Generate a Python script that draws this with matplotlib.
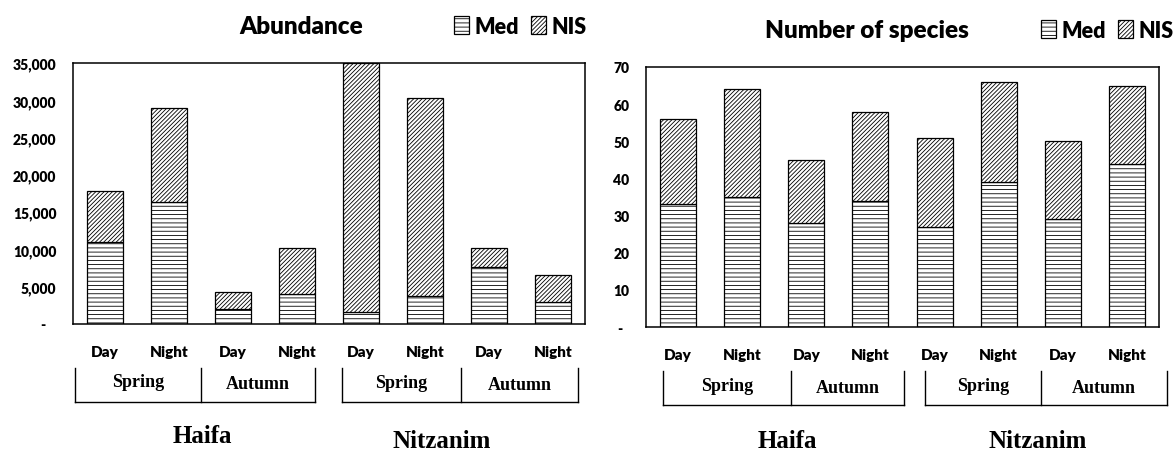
import matplotlib
matplotlib.use("Agg")
import matplotlib.pyplot as plt
from matplotlib.ticker import FuncFormatter
import numpy as np

# ---- data ----
periods = ["Day", "Night", "Day", "Night", "Day", "Night", "Day", "Night"]
seasons = ["Spring", "Autumn", "Spring", "Autumn"]
sites = ["Haifa", "Nitzanim"]

abund_med = [11000, 16400, 2000, 4070, 1570, 3800, 7600, 3000]
abund_total = [17900, 29000, 4250, 10150, 35000, 30300, 10150, 6570]
abund_nis = [t - m for t, m in zip(abund_total, abund_med)]

spec_med = [33, 35, 28, 34, 27, 39, 29, 44]
spec_total = [56, 64, 45, 58, 51, 66, 50, 65]
spec_nis = [t - m for t, m in zip(spec_total, spec_med)]

abund_ticks = [0, 5000, 10000, 15000, 20000, 25000, 30000, 35000]
spec_ticks = [0, 10, 20, 30, 40, 50, 60, 70]

# ---- styling ----
plt.rcParams['hatch.linewidth'] = 0.6
SANS = ['Lato', 'DejaVu Sans']
SERIF = ['Liberation Serif', 'DejaVu Serif']
W, H = 1176, 452
fig = plt.figure(figsize=(W / 100, H / 100), dpi=100)


def px_axes(l, t, r, b):
    return fig.add_axes([l / W, 1 - b / H, (r - l) / W, (b - t) / H])


def fmt_abund(v, pos):
    return "-   " if v == 0 else f"{int(v):,}"


def fmt_spec(v, pos):
    return "-  " if v == 0 else f"{int(v)}"


def draw(ax, med, nis, ticks, fmt, title, title_xy, leg_xy):
    x = np.arange(len(periods))
    b1 = ax.bar(x, med, width=0.56, color='white', edgecolor='black',
                hatch='----', linewidth=0.9, label='Med')
    b2 = ax.bar(x, nis, bottom=med, width=0.56, color='white',
                edgecolor='black', hatch='////////', linewidth=0.9,
                label='NIS')
    ax.set_xlim(-0.5, 7.5)
    ax.set_ylim(ticks[0], ticks[-1])
    ax.set_yticks(ticks)
    ax.yaxis.set_major_formatter(FuncFormatter(fmt))
    ax.set_xticks(x)
    ax.set_xticklabels(periods)
    ax.tick_params(axis='y', length=0, labelsize=10, pad=12)
    ax.tick_params(axis='x', length=0, labelsize=11, pad=15)
    for lab in ax.get_yticklabels() + ax.get_xticklabels():
        lab.set_fontfamily(SANS)
        lab.set_fontweight('heavy')
    for s in ax.spines.values():
        s.set_linewidth(1.1)
    fig.text(title_xy[0] / W, 1 - title_xy[1] / H, title, ha='center',
             va='center', fontsize=17.5, fontweight='heavy', family=SANS)
    fig.legend(handles=[b1, b2], labels=['Med', 'NIS'], loc='center right',
               bbox_to_anchor=(leg_xy[0] / W, 1 - leg_xy[1] / H), ncol=2,
               frameon=False, handlelength=0.7, handleheight=0.9,
               handletextpad=0.25, columnspacing=0.6, borderpad=0,
               borderaxespad=0,
               prop={'family': SANS, 'weight': 'heavy', 'size': 15.5})


ax1 = px_axes(73, 64, 585, 325)
draw(ax1, abund_med, abund_nis, abund_ticks, fmt_abund, "Abundance",
     (301, 27), (587, 27))
ax2 = px_axes(646, 68, 1159, 328)
draw(ax2, spec_med, spec_nis, spec_ticks, fmt_spec, "Number of species",
     (867, 31), (1174, 31))

# ---- group brackets (overlay in pixel coords) ----
ov = fig.add_axes([0, 0, 1, 1], facecolor='none')
ov.set_xlim(0, W)
ov.set_ylim(H, 0)
ov.axis('off')


def bracket(x0, xm, x1, ytop, ybot, ytext, lab_l, lab_r):
    ov.plot([x0, x1], [ybot, ybot], color='black', lw=1.0)
    for xx in (x0, xm, x1):
        ov.plot([xx, xx], [ytop, ybot], color='black', lw=1.0)
    ov.text((x0 + xm) / 2, ytext, lab_l, ha='center', va='center',
            family=SERIF, fontweight='bold', fontsize=13)
    ov.text((xm + x1) / 2, ytext + 2, lab_r, ha='center', va='center',
            family=SERIF, fontweight='bold', fontsize=13)


bracket(75, 201, 315, 369, 403, 383, seasons[0], seasons[1])
bracket(342, 461, 578, 369, 403, 384, seasons[2], seasons[3])
bracket(663, 791, 904, 372, 406, 387, seasons[0], seasons[1])
bracket(925, 1041, 1167, 372, 406, 387, seasons[2], seasons[3])

for x, y, s in [(202, 437, sites[0]), (442, 442, sites[1]),
                (787, 442, sites[0]), (1038, 442, sites[1])]:
    ov.text(x, y, s, ha='center', va='center', family=SERIF,
            fontweight='bold', fontsize=18)

fig.savefig("out.png", dpi=100)
